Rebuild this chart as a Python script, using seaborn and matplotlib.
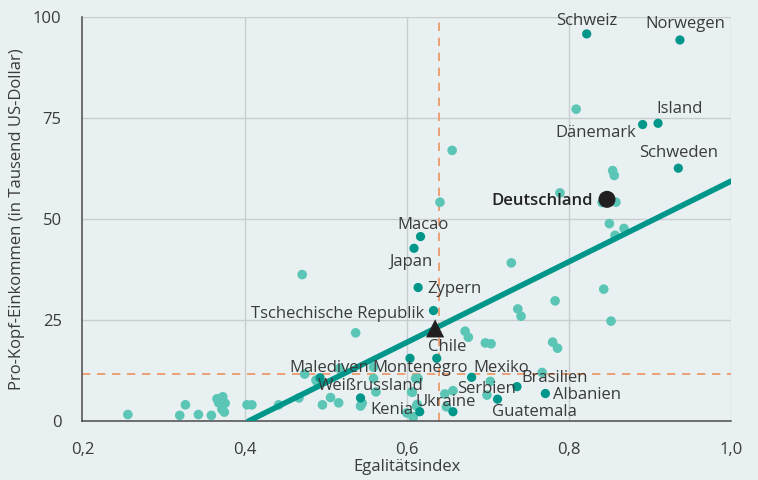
"""Egalitätsindex vs. Pro-Kopf-Einkommen scatter chart."""

import matplotlib
matplotlib.use("Agg")
import matplotlib.pyplot as plt
import pandas as pd
import seaborn as sns

# unlabelled countries
light_x = [0.256, 0.320, 0.327, 0.343, 0.359, 0.366, 0.373, 0.368, 0.376, 0.372, 0.375,
           0.403, 0.409, 0.442, 0.467, 0.474, 0.488, 0.490, 0.496, 0.506, 0.516, 0.517,
           0.537, 0.543, 0.545, 0.559, 0.559, 0.562, 0.600, 0.608, 0.611, 0.606, 0.471,
           0.672, 0.676, 0.697, 0.704, 0.614, 0.647, 0.657, 0.613, 0.699, 0.703, 0.780,
           0.786, 0.767, 0.649, 0.607, 0.612, 0.608, 0.729, 0.843, 0.783, 0.737, 0.741,
           0.852, 0.656, 0.641, 0.789, 0.854, 0.856, 0.841, 0.858, 0.850, 0.868, 0.857,
           0.809]
light_y = [1.6, 1.4, 4.0, 1.6, 1.4, 5.5, 6.0, 4.5, 4.4, 2.9, 2.2,
           4.0, 4.0, 4.0, 5.7, 11.6, 10.1, 9.5, 4.0, 5.8, 4.5, 13.0,
           21.8, 3.7, 4.4, 13.3, 10.5, 7.2, 2.0, 1.1, 10.5, 7.2, 36.2,
           22.2, 20.7, 19.3, 19.1, 10.5, 6.7, 7.5, 4.1, 6.4, 9.8, 19.5,
           18.0, 12.0, 3.5, 7.1, 3.7, 0.9, 39.1, 32.6, 29.7, 27.7, 25.9,
           24.7, 66.9, 54.1, 56.4, 61.9, 60.7, 54.0, 54.1, 48.8, 47.6, 45.9,
           77.1]

# labelled countries
dark_x = [0.822, 0.937, 0.910, 0.891, 0.935, 0.617, 0.609, 0.614, 0.633, 0.604, 0.637,
          0.493, 0.680, 0.543, 0.736, 0.771, 0.712, 0.657, 0.616]
dark_y = [95.7, 94.2, 73.6, 73.3, 62.5, 45.6, 42.7, 33.0, 27.3, 15.5, 15.5,
          10.7, 10.8, 5.7, 8.5, 6.8, 5.4, 2.3, 2.3]

germany_x, germany_y = [0.847], [54.8]
czech_x, czech_y = [0.635], [22.9]

fit_x = [0.405, 1.0]
fit_y = [0.0, 59.3]

mean_x = 0.640
mean_y = 11.5

labels = {
    "Schweiz": (0.822, 98.9, "center"),
    "Norwegen": (0.944, 98.1, "center"),
    "Island": (0.936, 77.1, "center"),
    "Dänemark": (0.833, 71.2, "center"),
    "Schweden": (0.935, 66.3, "center"),
    "Macao": (0.620, 48.5, "center"),
    "Japan": (0.605, 39.3, "center"),
    "Zypern": (0.626, 32.6, "left"),
    "Tschechische Republik": (0.621, 26.5, "right"),
    "Chile": (0.650, 18.3, "center"),
    "Malediven": (0.504, 13.1, "center"),
    "Montenegro": (0.616, 13.1, "center"),
    "Mexiko": (0.716, 13.1, "center"),
    "Weißrussland": (0.555, 8.7, "center"),
    "Serbien": (0.698, 7.9, "center"),
    "Brasilien": (0.782, 10.6, "center"),
    "Albanien": (0.822, 6.4, "center"),
    "Kenia": (0.582, 2.7, "center"),
    "Ukraine": (0.648, 4.7, "center"),
    "Guatemala": (0.757, 2.2, "center"),
}

BG = "#e8f0f1"
DARK = "#00968a"
LIGHT = "#5cc6b6"
ORANGE = "#ee9360"
TEXT = "#3a3a3a"
GRID = "#c9cdcf"
FS = 12

sns.set_theme(style="white")
plt.rcParams["font.family"] = ["Open Sans", "DejaVu Sans"]

fig = plt.figure(figsize=(7.58, 4.80), dpi=100, facecolor=BG)
ax = fig.add_axes([0.1088, 0.1229, 0.8556, 0.8427])
ax.set_facecolor(BG)

for gx in [0.4, 0.6, 0.8, 1.0]:
    ax.axvline(gx, color=GRID, lw=1.0, zorder=0)
for gy in [25, 50, 75, 100]:
    ax.axhline(gy, color=GRID, lw=1.0, zorder=0)

ax.axvline(mean_x, color=ORANGE, lw=1.2, ls=(0, (5, 4)), zorder=1)
ax.axhline(mean_y, color=ORANGE, lw=1.2, ls=(0, (5, 4)), zorder=1)

sns.scatterplot(x=light_x, y=light_y, color=LIGHT, s=48, edgecolor="none", ax=ax, zorder=2)
sns.lineplot(x=fit_x, y=fit_y, color=DARK, lw=4, ax=ax, zorder=3)
sns.scatterplot(x=dark_x, y=dark_y, color=DARK, s=44, edgecolor="none", ax=ax, zorder=4)
sns.scatterplot(x=germany_x, y=germany_y, color="#231f20", s=150, edgecolor="none", ax=ax, zorder=5)
sns.scatterplot(x=czech_x, y=czech_y, color="#231f20", marker="^", s=170, edgecolor="none", ax=ax, zorder=5)

for name, (lx, ly, ha) in labels.items():
    ax.text(lx, ly, name, ha=ha, va="center", fontsize=FS, color=TEXT, zorder=6)
ax.text(0.829, 54.4, "Deutschland", ha="right", va="center", fontsize=FS,
        fontweight="semibold", color="#222222", zorder=6)

ax.set_xlim(0.2, 1.0)
ax.set_ylim(0, 100)
ax.set_xticks([0.2, 0.4, 0.6, 0.8, 1.0])
ax.set_xticklabels(["0,2", "0,4", "0,6", "0,8", "1,0"])
ax.set_yticks([0, 25, 50, 75, 100])
ax.set_yticklabels(["0", "25", "50", "75", "100"])
ax.tick_params(axis="both", direction="out", length=11, width=1, color="#4a4a4a",
               labelsize=FS, labelcolor=TEXT, pad=4)
for side in ["top", "right"]:
    ax.spines[side].set_visible(False)
for side in ["left", "bottom"]:
    ax.spines[side].set_color("#4a4a4a")
    ax.spines[side].set_linewidth(1.1)

ax.set_xlabel("Egalitätsindex", fontsize=FS, color=TEXT, labelpad=1)
ax.set_ylabel("Pro-Kopf-Einkommen (in Tausend US-Dollar)", fontsize=FS, color=TEXT, labelpad=6)

fig.savefig("out.png", dpi=100, facecolor=BG)
